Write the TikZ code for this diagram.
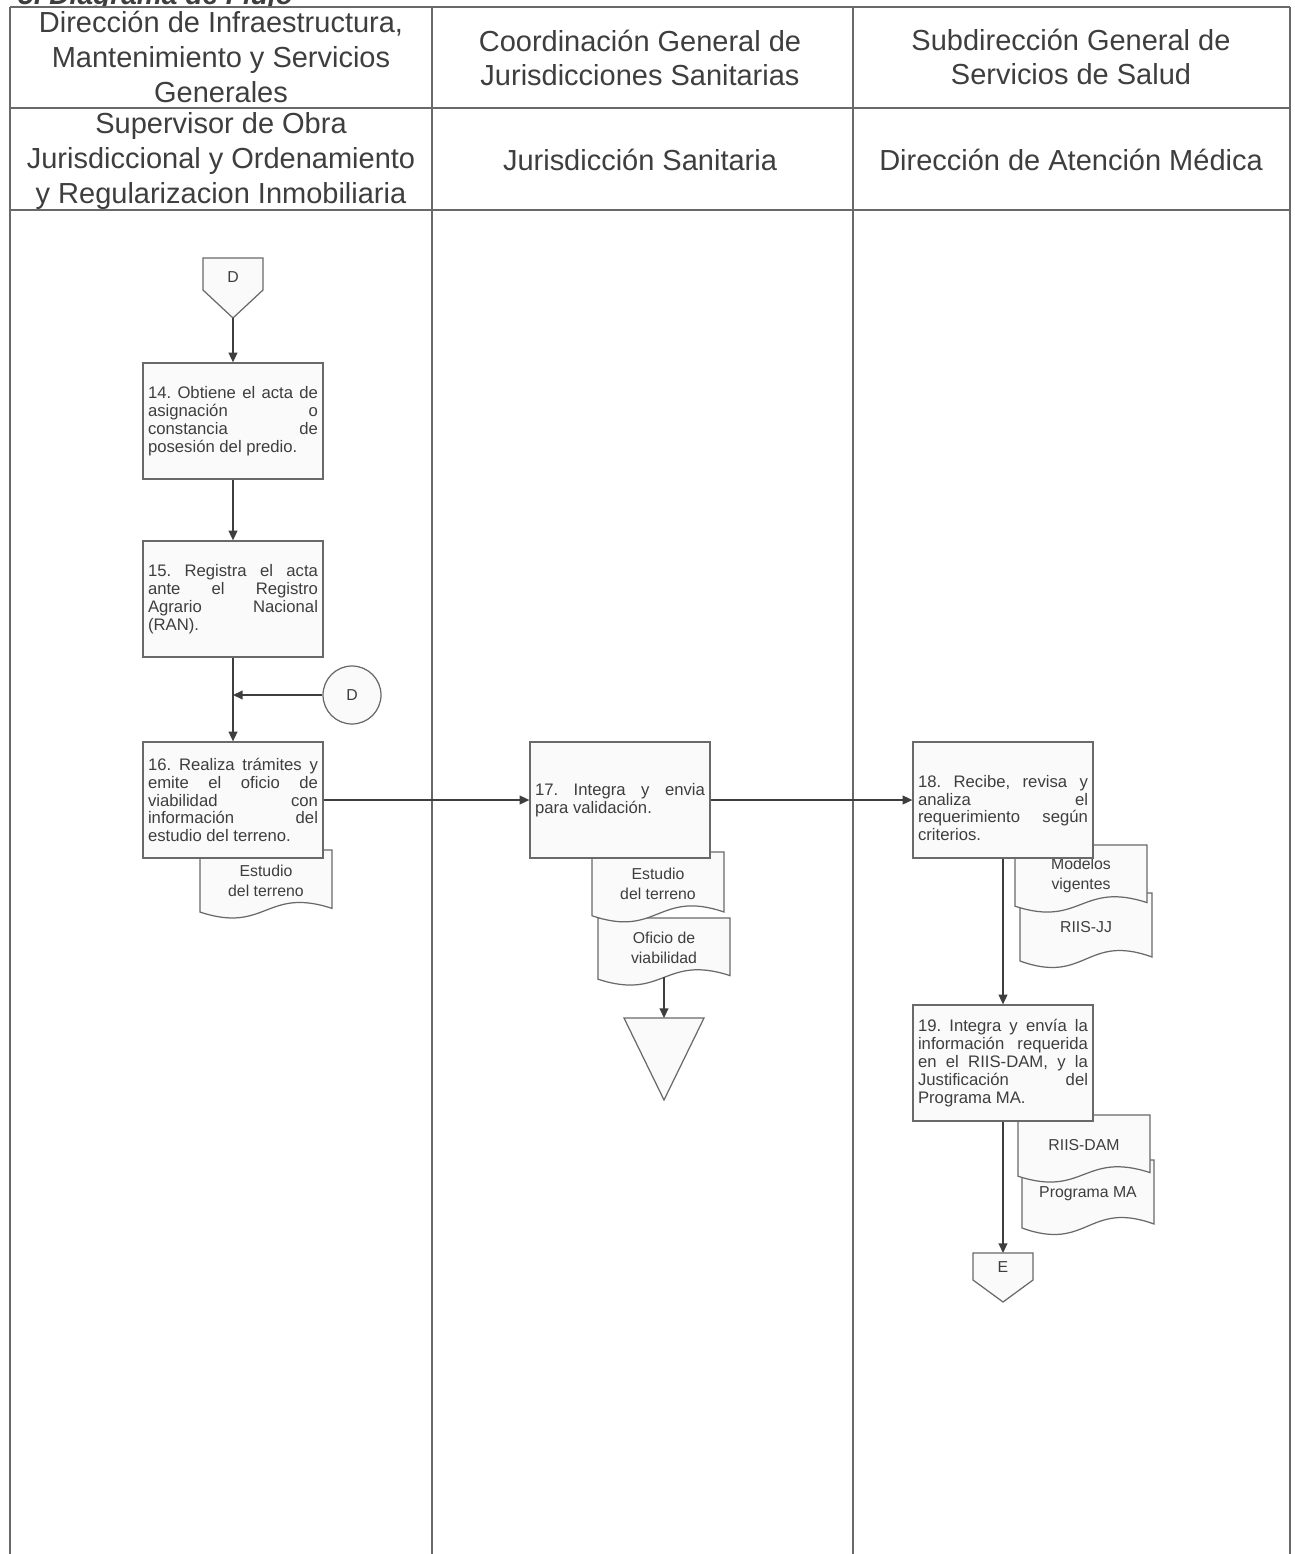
\documentclass[tikz,border=0pt]{standalone}
\usepackage{fontspec}
\setmainfont{Liberation Sans}
\usetikzlibrary{arrows.meta}

\definecolor{framegray}{RGB}{105,105,105}
\definecolor{ink}{RGB}{62,62,62}
\definecolor{paper}{RGB}{250,250,250}

\tolerance=10000
\hbadness=10000
\hyphenpenalty=10000
\exhyphenpenalty=10000
\frenchspacing

% document symbol: name, left, top, height, text
\newcommand{\docsym}[5]{%
  \draw [docline] (#2,#3) -- (#2+132,#3) -- (#2+132,#3+0.8*#4)
    .. controls (#2+66,#3+0.5*#4) and (#2+66,#3+1.15*#4) .. (#2,#3+0.85*#4) -- cycle;
  \node [doctext] (#1) at (#2+66,#3+0.42*#4) {#5};
  \coordinate (#1-foot) at (#2+66,#3+0.825*#4);
}

\begin{document}
\begin{tikzpicture}[x=0.02cm, y=-0.02cm,
  lane/.style={draw=framegray, line width=0.8pt},
  lanehead/.style={text=ink, align=center, font=\fontsize{16.5}{19.8}\selectfont},
  activity/.style={draw=framegray, fill=paper, line width=0.75pt, text width=3.4cm,
    minimum height=2.32cm, inner xsep=0.1cm, inner ysep=0pt, align=justify,
    text=ink, font=\fontsize{9.5}{10.2}\selectfont},
  docline/.style={draw=framegray, fill=paper, line width=0.7pt},
  doctext/.style={text=ink, align=center, font=\fontsize{9}{11.3}\selectfont},
  wire/.style={draw=ink, line width=0.8pt},
  flow/.style={wire, -{Triangle[length=5.5pt, width=5pt]}},
  connlabel/.style={text=ink, font=\fontsize{9}{10}\selectfont}
]
\useasboundingbox (0,0) rectangle (1294,1554);
\fill [white] (0,0) rectangle (1294,1554);

\node [anchor=base west, text=ink, font=\fontsize{16}{19}\selectfont\bfseries\itshape] (title) at (12,5) {5. Diagrama de Flujo};
\fill [white] (10,7) rectangle (1290,1554);

% lanes and header rows
\foreach \x in {10,432,853,1290}
	\draw [lane] (\x,7) -- (\x,1554);
\foreach \y in {7,108,210}
	\draw [lane] (10,\y) -- (1290,\y);

\node [lanehead] (h11) at (221,57) {Dirección de Infraestructura,\\Mantenimiento y Servicios\\Generales};
\node [lanehead] (h12) at (640,58) {Coordinación General de\\Jurisdicciones Sanitarias};
\node [lanehead] (h13) at (1071,57) {Subdirección General de\\Servicios de Salud};
\node [lanehead] (h21) at (221,161) {Supervisor de Obra\\Jurisdiccional y Ordenamiento\\y Regularizacion Inmobiliaria};
\node [lanehead] (h22) at (640,160) {Jurisdicción Sanitaria};
\node [lanehead] (h23) at (1071,160) {Dirección de Atención Médica};

% connectors D and E, archive
\draw [docline] (203,258) -- (263,258) -- (263,290) -- (233,318) -- (203,290) -- cycle;
\node [connlabel] (offD) at (233,277) {D};
\coordinate (offDtip) at (233,318);

\draw [docline] (973,1253) -- (1033,1253) -- (1033,1280) -- (1003,1302) -- (973,1280) -- cycle;
\node [connlabel] (offE) at (1003,1267) {E};
\coordinate (offEtop) at (1003,1253);

\draw [docline] (624,1018) -- (704,1018) -- (664,1100) -- cycle;
\coordinate (arch) at (664,1018);

% documents, lower ones first
\docsym{oficio}{598}{918}{72}{Oficio de\\viabilidad}
\docsym{estudioB}{592}{852}{75}{Estudio\\del terreno}
\docsym{estudioA}{200}{850}{73}{Estudio\\del terreno}
\docsym{riisjj}{1020}{893}{80}{RIIS-JJ}
\docsym{modelos}{1015}{845}{72}{Modelos\\vigentes}
\docsym{progma}{1022}{1160}{80}{Programa MA}
\docsym{riisdam}{1018}{1115}{72}{RIIS-DAM}

% activities
\node [activity] (b14) at (233,421) {14. Obtiene el acta de\linebreak asignación o\linebreak constancia de\linebreak posesión del predio.};
\node [activity] (b15) at (233,599) {15. Registra el acta\linebreak ante el Registro\linebreak Agrario Nacional\linebreak (RAN).};
\node [activity] (b16) at (233,800) {16. Realiza trámites y\linebreak emite el oficio de\linebreak viabilidad con\linebreak información del\linebreak estudio del terreno.};
\node [activity] (b17) at (620,800) {17. Integra y envia\linebreak para validación.};
\node [activity] (b18) at (1003,800) {\rule{0pt}{16pt}18. Recibe, revisa y\linebreak analiza el\linebreak requerimiento según\linebreak criterios.};
\node [activity] (b19) at (1003,1063) {19. Integra y envía la\linebreak información requerida\linebreak en el RIIS-DAM, y la\linebreak Justificación del\linebreak Programa MA.};

\node [circle, draw=framegray, fill=paper, line width=0.7pt, minimum size=1.16cm, connlabel] (onD) at (352,695) {D};

\draw [flow] (offDtip) -- (b14);
\draw [flow] (b14) -- (b15);
\draw [flow] (b15) -- (b16);
\draw [flow] (onD.west) -- (onD.west -| b15.south);
\draw [flow] (b16) -- (b17);
\draw [flow] (b17) -- (b18);
\draw [flow] (oficio-foot) -- (arch);
\draw [flow] (b18) -- (b19);
\draw [flow] (b19) -- (offEtop);
\end{tikzpicture}
\end{document}
